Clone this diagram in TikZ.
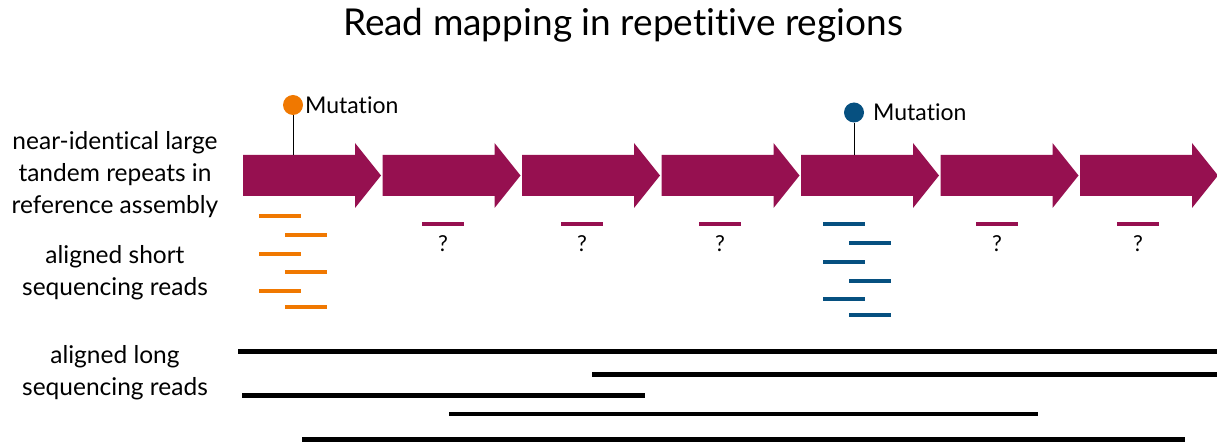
\documentclass[tikz,border=0pt]{standalone}
\usepackage{fontspec}
\setmainfont{Lato}[Ligatures=NoCommon]
\usetikzlibrary{positioning}
\definecolor{repeatpurple}{RGB}{150,16,80}
\definecolor{mutorange}{RGB}{240,120,0}
\definecolor{mutblue}{RGB}{6,80,128}
\tikzset{
  repeatunit/.style={fill=repeatpurple},
  shortread/.style={line width=4pt},
  longread/.style={line width=4.5pt, black},
  mutdot/.style={circle, inner sep=0pt, minimum size=20pt},
  sidelabel/.style={align=center, font=\fontsize{24.5}{32}\selectfont},
  marklabel/.style={font=\fontsize{23}{26}\selectfont, inner sep=0pt},
  qmark/.style={font=\fontsize{22}{24}\selectfont, inner sep=0pt}
}
\begin{document}
\begin{tikzpicture}[x=1pt,y=-1pt]
		\useasboundingbox (0,0) rectangle (1217,443);
		% title
		\node[font=\fontsize{37}{40}\selectfont] (title) at (623,25) {Read mapping in repetitive regions};
		% labels on the left
		\node[sidelabel] (lblref) at (115,175) {near-identical large\\tandem repeats in\\reference assembly};
		\node[sidelabel] (lblshort) at (115,273) {aligned short\\sequencing reads};
		\node[sidelabel] (lbllong) at (115,373) {aligned long\\sequencing reads};
		% tandem repeats
		\fill[repeatunit] (243,155)--(355,155)--(355,143)--(381,175.5)--(355,208)--(355,196)--(243,196)--cycle;
		\fill[repeatunit] (382.5,155)--(494.5,155)--(494.5,143)--(520.5,175.5)--(494.5,208)--(494.5,196)--(382.5,196)--cycle;
		\fill[repeatunit] (522,155)--(634,155)--(634,143)--(660,175.5)--(634,208)--(634,196)--(522,196)--cycle;
		\fill[repeatunit] (661.5,155)--(773.5,155)--(773.5,143)--(799.5,175.5)--(773.5,208)--(773.5,196)--(661.5,196)--cycle;
		\fill[repeatunit] (801,155)--(913,155)--(913,143)--(939,175.5)--(913,208)--(913,196)--(801,196)--cycle;
		\fill[repeatunit] (940.5,155)--(1052.5,155)--(1052.5,143)--(1078.5,175.5)--(1052.5,208)--(1052.5,196)--(940.5,196)--cycle;
		\fill[repeatunit] (1080,155)--(1192,155)--(1192,143)--(1218,175.5)--(1192,208)--(1192,196)--(1080,196)--cycle;
		% mutations
		\node[mutdot, fill=mutorange] (mutA) at (293,105) {};
		\coordinate (mutAbase) at (293,155);
		\draw (mutA.south)--(mutAbase);
		\node[marklabel, anchor=west] (mutAtext) at (305,105) {Mutation};
		\node[mutdot, fill=mutblue] (mutB) at (854,112.5) {};
		\coordinate (mutBbase) at (854,155);
		\draw (mutB.south)--(mutBbase);
		\node[marklabel, anchor=west] (mutBtext) at (873,112.5) {Mutation};
		% short reads
		\draw[shortread, mutorange] (259,216.5)--(301,216.5);
		\draw[shortread, mutorange] (285,235.5)--(327,235.5);
		\draw[shortread, mutorange] (259,254)--(301,254);
		\draw[shortread, mutorange] (285,272.5)--(327,272.5);
		\draw[shortread, mutorange] (259,291.5)--(301,291.5);
		\draw[shortread, mutorange] (285,307.5)--(327,307.5);
		\draw[shortread, mutblue] (823,224.5)--(865,224.5);
		\draw[shortread, mutblue] (849,243.5)--(891,243.5);
		\draw[shortread, mutblue] (823,262)--(865,262);
		\draw[shortread, mutblue] (849,281)--(891,281);
		\draw[shortread, mutblue] (823,299.5)--(865,299.5);
		\draw[shortread, mutblue] (849,315.5)--(891,315.5);
		\draw[shortread, repeatpurple] (422,224.5)--(464,224.5);
		\draw[shortread, repeatpurple] (561,224.5)--(603,224.5);
		\draw[shortread, repeatpurple] (699,224.5)--(741,224.5);
		\draw[shortread, repeatpurple] (976,224.5)--(1018,224.5);
		\draw[shortread, repeatpurple] (1117,224.5)--(1159,224.5);
		\node[qmark] (qB) at (443,244) {?};
		\node[qmark] (qC) at (582,244) {?};
		\node[qmark] (qD) at (720,244) {?};
		\node[qmark] (qF) at (997,244) {?};
		\node[qmark] (qG) at (1138,244) {?};
		% long reads
		\draw[longread] (238,351.5)--(1217,351.5);
		\draw[longread] (592,374.5)--(1217,374.5);
		\draw[longread] (242,395.5)--(645,395.5);
		\draw[longread] (449,414)--(1038,414);
		\draw[longread] (302,439.5)--(1185,439.5);
		\end{tikzpicture}
\end{document}
